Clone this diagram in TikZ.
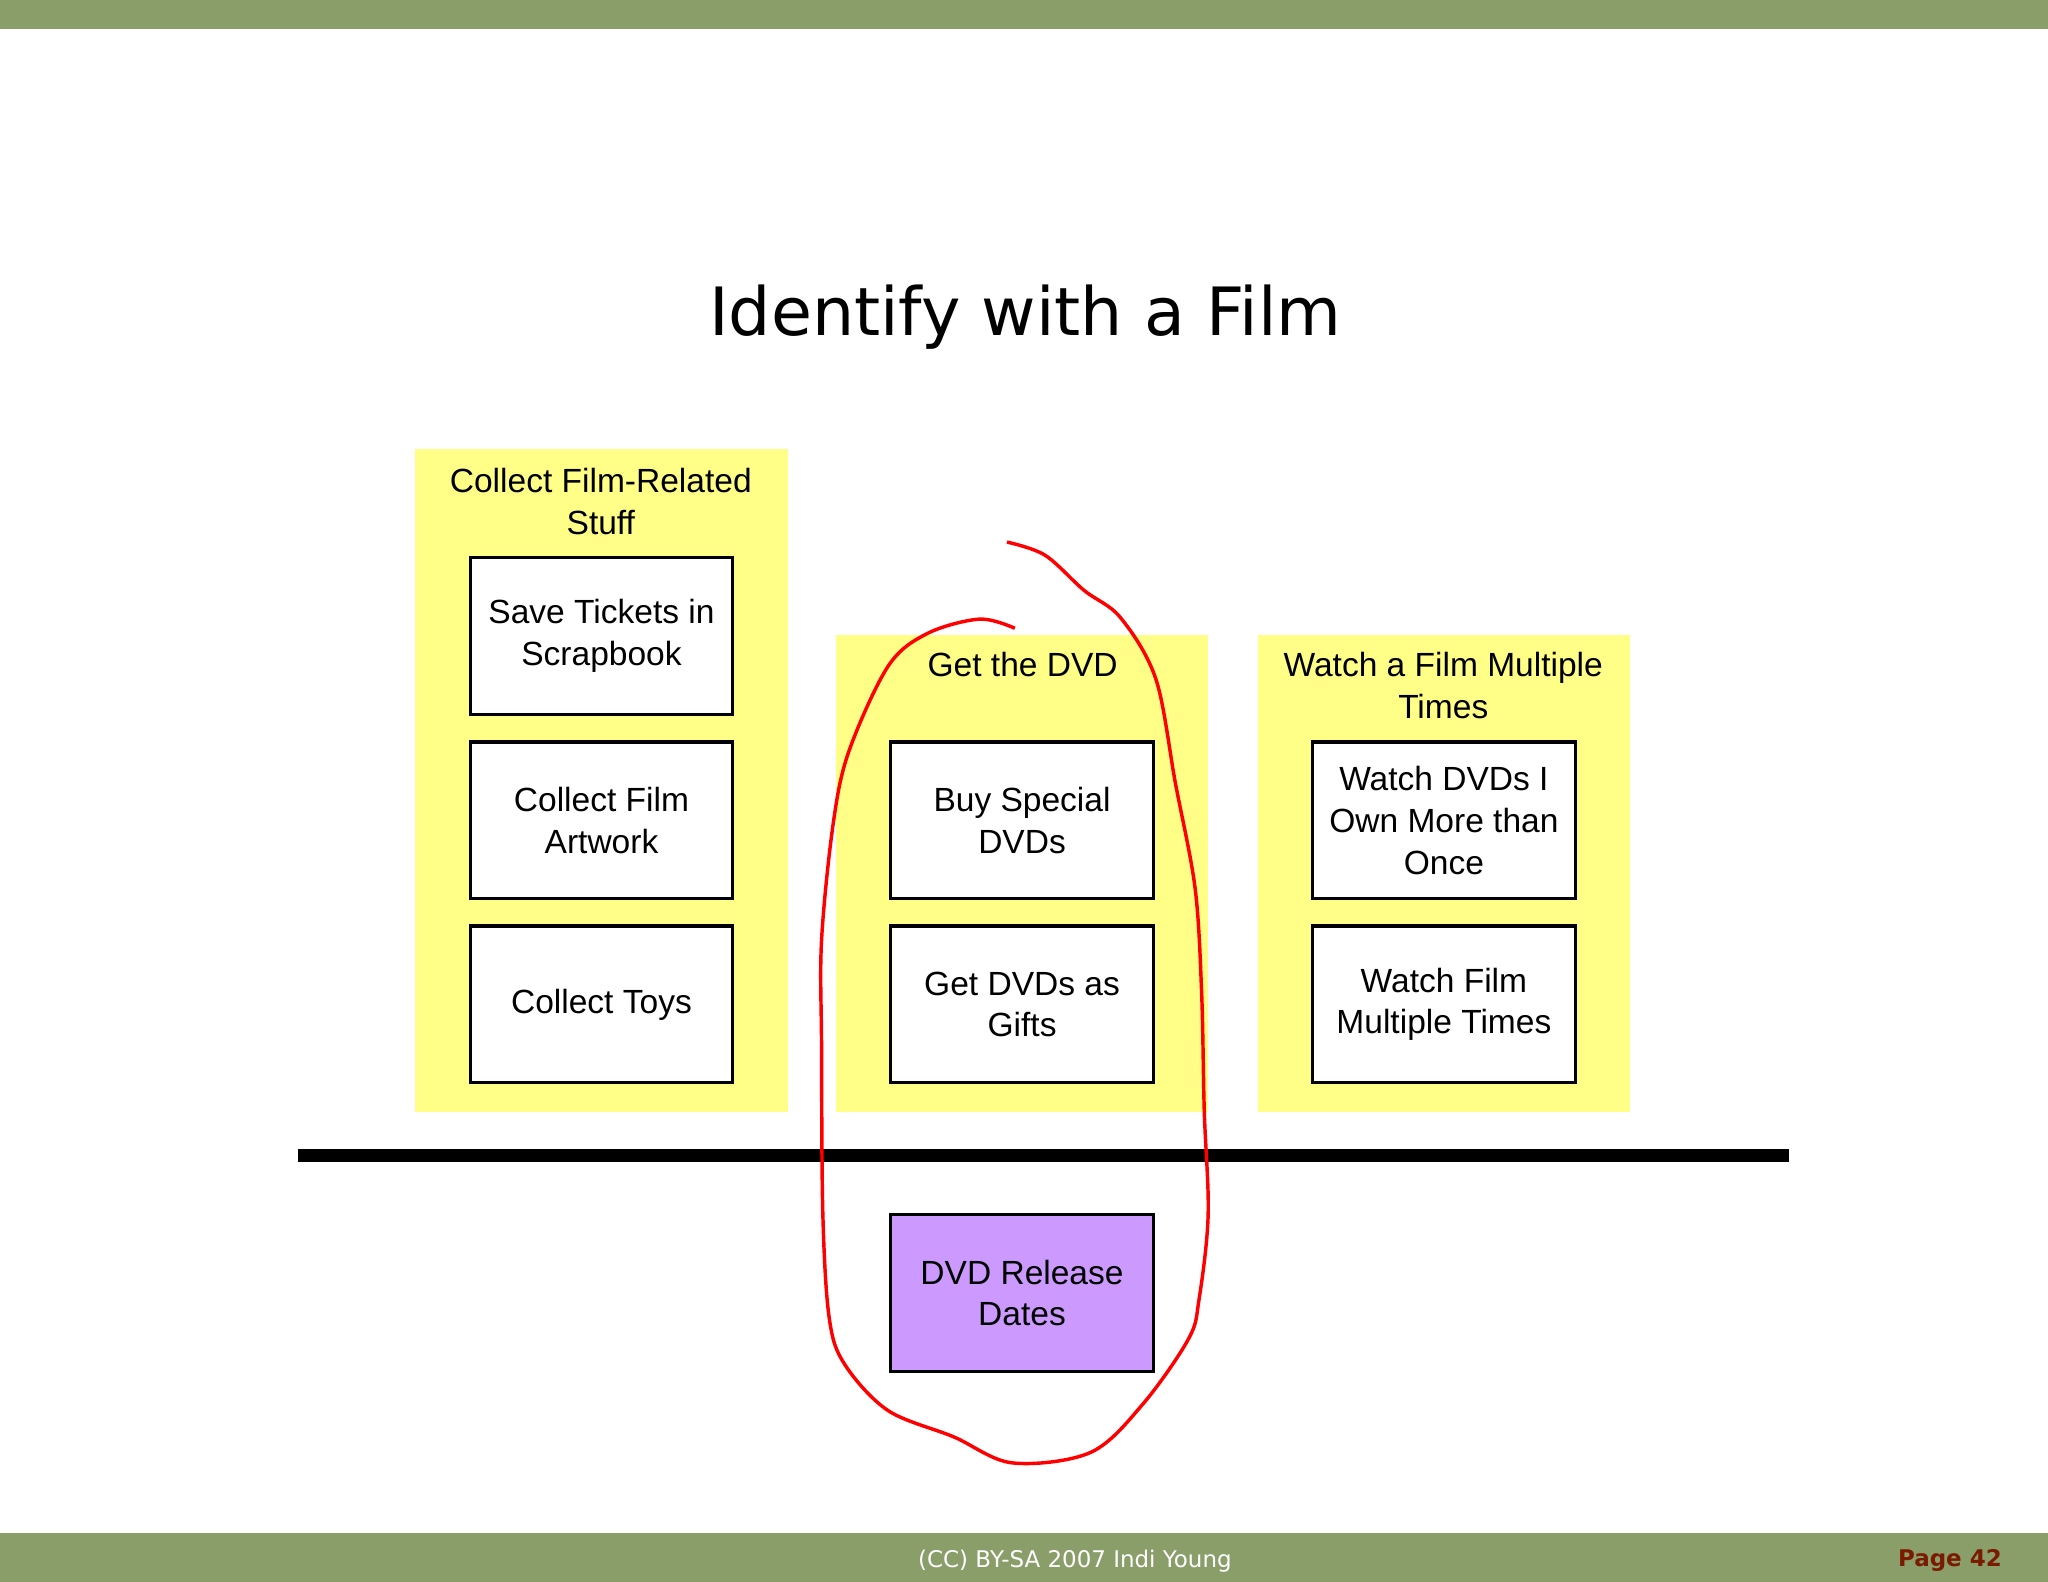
\documentclass[tikz,border=0pt]{standalone}
\usepackage{fontspec}
\setmainfont{Liberation Sans}
\newfontfamily\verafont{DejaVu Sans}
\definecolor{band}{HTML}{8A9E6A}
\definecolor{panel}{HTML}{FFFF88}
\definecolor{lilac}{HTML}{CC99FF}
\definecolor{pagered}{HTML}{7A1A00}
\begin{document}
\begin{tikzpicture}[x=0.01cm,y=-0.01cm,
  panelbox/.style={fill=panel,draw=none},
  taskbox/.style={draw=black,line width=0.7pt,fill=white},
  lbl/.style={font=\fontsize{7.3pt}{9.1pt}\selectfont,align=center}]
\useasboundingbox (0,0) rectangle (1568,1211);
\fill[white] (0,0) rectangle (1568,1211);
\fill[band] (0,0) rectangle (1568,22);
\fill[band] (0,1174) rectangle (1568,1211);
\node[font=\verafont\fontsize{5pt}{6pt}\selectfont,text=white] (foot) at (823,1195) {(CC) BY-SA 2007 Indi Young};
\node[font=\verafont\bfseries\fontsize{5pt}{6pt}\selectfont,text=pagered,anchor=east] (page) at (1545,1195) {Page 42};
\node[font=\verafont\fontsize{14.5pt}{17pt}\selectfont] (title) at (785,243) {Identify with a Film};
% panels
\fill[panelbox] (318,344) rectangle (603,851);
\fill[panelbox] (640,486) rectangle (925,851);
\fill[panelbox] (963,486) rectangle (1248,851);
\node[lbl] (p1) at (460,384) {Collect Film-Related\\Stuff};
\node[lbl] (p2) at (783,509) {Get the DVD};
\node[lbl] (p3) at (1105,525) {Watch a Film Multiple\\Times};
% boxes
\draw[taskbox] (360,427) rectangle (561,547) node[lbl,midway] (a1) {Save Tickets in\\Scrapbook};
\draw[taskbox] (360,568) rectangle (561,688) node[lbl,midway] (a2) {Collect Film\\Artwork};
\draw[taskbox] (360,709) rectangle (561,829) node[lbl,midway] (a3) {Collect Toys};
\draw[taskbox] (682,568) rectangle (883,688) node[lbl,midway] (b1) {Buy Special\\DVDs};
\draw[taskbox] (682,709) rectangle (883,829) node[lbl,midway] (b2) {Get DVDs as\\Gifts};
\draw[taskbox] (1005,568) rectangle (1206,688) node[lbl,midway] (c1) {Watch DVDs I\\Own More than\\Once};
\draw[taskbox] (1005,709) rectangle (1206,829) node[lbl,midway] (c2) {Watch Film\\Multiple Times};
\fill[black] (228,880) rectangle (1370,890);
\draw[taskbox,fill=lilac] (682,930) rectangle (883,1050) node[lbl,midway] (d1) {DVD Release\\Dates};
% red loop
\draw[red,line width=0.75pt,line join=round] plot[smooth,tension=0.55] coordinates {
(771,415) (800,425) (830,452) (858,473) (885,520) (900,600) (915,680) (920,760) (922,850) (925,930) (918,995) (910,1025) (875,1075) (835,1112) (775,1120) (730,1100) (680,1080) (647,1045) (635,1010) (630,930) (629,800) (629,720) (638,630) (650,575) (680,510) (710,485) (750,474) (777,481)};
\end{tikzpicture}
\end{document}
